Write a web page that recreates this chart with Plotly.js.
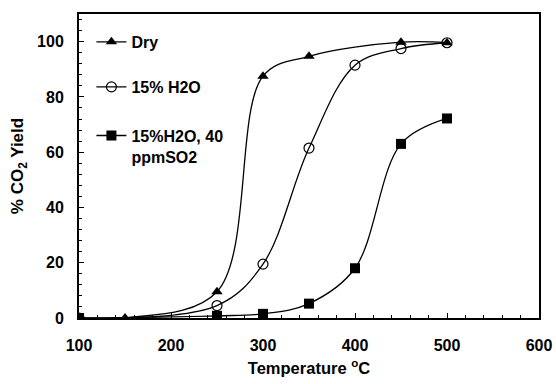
<!DOCTYPE html>
<html>
<head>
<meta charset="utf-8">
<script src="https://cdn.plot.ly/plotly-3.0.1.min.js"></script>
<style>
  html, body { margin: 0; padding: 0; background: #fff; }
  #chart { width: 556px; height: 384px; }
</style>
</head>
<body>
<div id="chart"></div>
<script>
// Temperature (°C) and CO2 yield (%) for each feed condition
const tempDry = [100, 150, 250, 300, 350, 450, 500];
const yieldDry = [0, 0, 9.5, 87.5, 94.7, 99.8, 99.6];

const tempWet = [100, 250, 300, 350, 400, 450, 500];
const yieldWet = [0, 4.5, 19.5, 61.5, 91.5, 97.5, 99.6];

const tempSO2 = [100, 250, 300, 350, 400, 450, 500];
const yieldSO2 = [0, 0.8, 1.5, 5.2, 18, 63, 72.2];

const seriesNames = ['Dry', '15% H2O', '15%H2O, 40<br>ppmSO2'];

const font = { family: 'Liberation Sans, Arial, sans-serif', color: '#000' };
const lineStyle = { color: '#000', width: 1.3, shape: 'spline', smoothing: 1 };

const traces = [
  {
    x: tempDry, y: yieldDry, name: seriesNames[0], legend: 'legend',
    mode: 'lines+markers', line: lineStyle,
    marker: { symbol: 'triangle-up', size: 10, color: '#000' }
  },
  {
    x: tempWet, y: yieldWet, name: seriesNames[1], legend: 'legend2',
    mode: 'lines+markers', line: lineStyle,
    marker: { symbol: 'circle-open', size: 10, color: '#000', line: { width: 1.2, color: '#000' } }
  },
  {
    x: tempSO2, y: yieldSO2, name: seriesNames[2], legend: 'legend3',
    mode: 'lines+markers', line: lineStyle,
    marker: { symbol: 'square', size: 10, color: '#000' }
  }
];

const legendBase = {
  xanchor: 'left', yanchor: 'middle', x: 0.027, valign: 'top',
  bgcolor: 'rgba(0,0,0,0)', borderwidth: 0, itemwidth: 30,
  font: Object.assign({}, font, { size: 16, weight: 'bold' })
};

const layout = {
  width: 556, height: 384,
  margin: { l: 79, r: 17, t: 14, b: 66 },
  paper_bgcolor: '#fff', plot_bgcolor: '#fff',
  font: font,
  showlegend: true,
  legend: Object.assign({}, legendBase, { y: 0.908 }),
  legend2: Object.assign({}, legendBase, { y: 0.76 }),
  legend3: Object.assign({}, legendBase, { y: 0.656, yanchor: 'top' }),
  xaxis: {
    range: [100, 600], dtick: 100, tick0: 100,
    showgrid: false, zeroline: false,
    showline: true, linecolor: '#000', linewidth: 2, mirror: true,
    ticks: 'inside', ticklen: 5, tickwidth: 1, tickcolor: '#000',
    minor: { dtick: 20, ticks: 'inside', ticklen: 3, tickcolor: '#000', tickwidth: 1 },
    ticklabelstandoff: 12,
    tickfont: Object.assign({}, font, { size: 16, weight: 'bold' }),
    title: { text: 'Temperature <sup>o</sup>C', standoff: 9,
             font: Object.assign({}, font, { size: 16.5, weight: 'bold' }) }
  },
  yaxis: {
    range: [0, 110], dtick: 20, tick0: 0,
    showgrid: false, zeroline: false,
    showline: true, linecolor: '#000', linewidth: 2, mirror: true,
    ticks: 'inside', ticklen: 5, tickwidth: 1, tickcolor: '#000',
    minor: { dtick: 4, ticks: 'inside', ticklen: 3, tickcolor: '#000', tickwidth: 1 },
    ticklabelstandoff: 10,
    tickfont: Object.assign({}, font, { size: 16, weight: 'bold' }),
    title: { text: '% CO<sub>2</sub> Yield', standoff: 9,
             font: Object.assign({}, font, { size: 17, weight: 'bold' }) }
  }
};

Plotly.newPlot('chart', traces, layout, { displayModeBar: false, staticPlot: true });
</script>
</body>
</html>
